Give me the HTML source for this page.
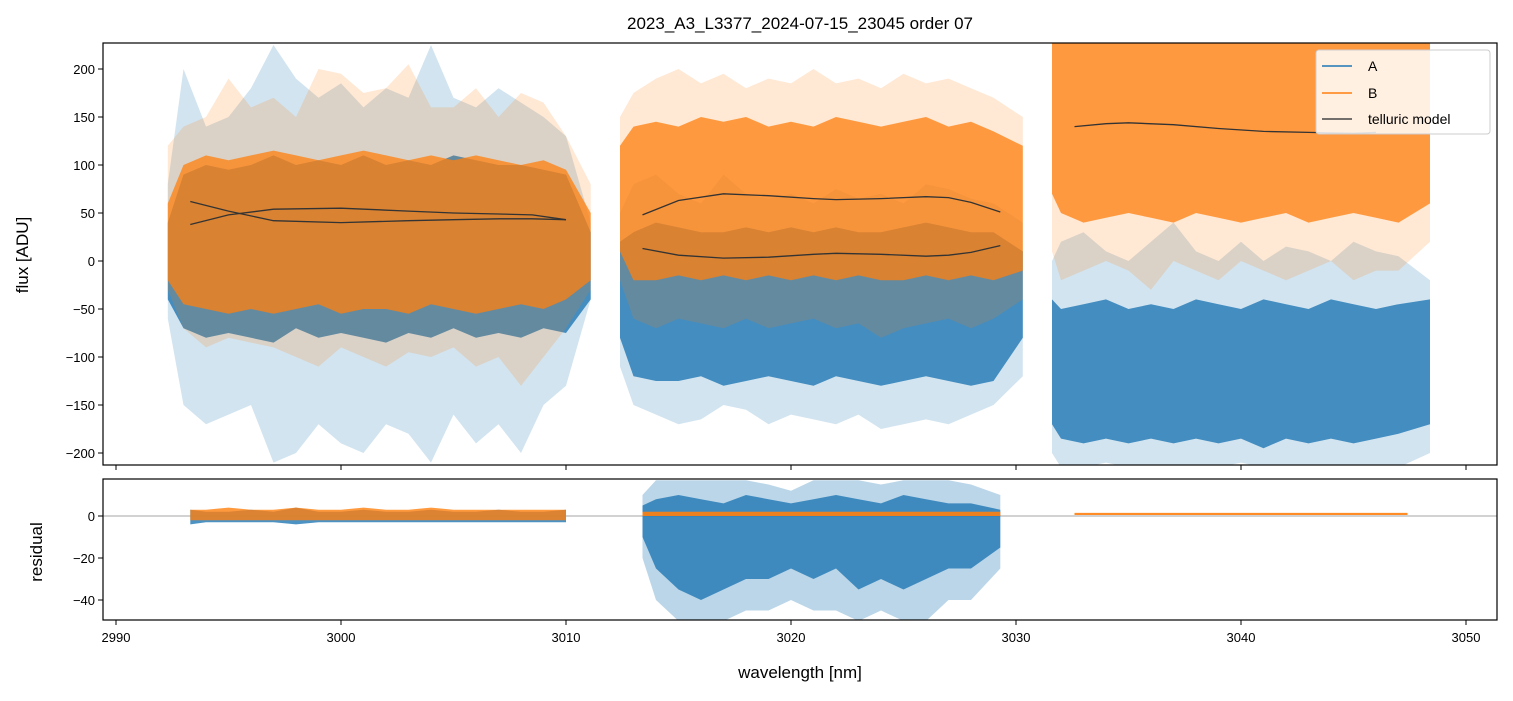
<!DOCTYPE html>
<html><head><meta charset="utf-8"><style>
body{margin:0;background:#fff;}
svg text{font-family:"Liberation Sans","DejaVu Sans",sans-serif;fill:#000;}
</style></head><body>
<svg id="c" width="1513" height="696" xmlns="http://www.w3.org/2000/svg">
<text x="800" y="29" font-size="17" text-anchor="middle">2023_A3_L3377_2024-07-15_23045  order 07</text>
<g id="main"></g>
<g id="res"></g>
</svg>
<script>
// ---- data (envelopes) ----
const seg1 = [2992.3,2993,2994,2995,2996,2997,2998,2999,3000,3001,3002,3003,3004,3005,3006,3007,3008,3009,3010,3011.1];
const seg2 = [3012.4,3013,3014,3015,3016,3017,3018,3019,3020,3021,3022,3023,3024,3025,3026,3027,3028,3029,3030.3];
const seg3 = [3031.6,3032,3033,3034,3035,3036,3037,3038,3039,3040,3041,3042,3043,3044,3045,3046,3047,3048.4];
// A flux
const A1coreLo=[-40,-70,-80,-75,-80,-85,-70,-80,-75,-80,-85,-75,-80,-70,-80,-75,-80,-70,-75,-40];
const A1coreHi=[40,90,100,95,100,110,100,105,100,110,100,105,100,110,105,100,100,95,90,30];
const A1spkLo=[-60,-150,-170,-160,-150,-210,-200,-170,-190,-200,-170,-180,-210,-160,-190,-170,-200,-150,-130,-40];
const A1spkHi=[80,200,140,150,180,225,190,170,185,160,180,170,225,170,160,180,165,150,130,40];
const A2coreLo=[-80,-120,-125,-125,-120,-130,-125,-120,-125,-130,-120,-125,-130,-125,-120,-125,-130,-125,-80];
const A2coreHi=[20,30,40,35,30,30,35,30,35,30,35,30,30,35,40,35,30,30,10];
const A2spkLo=[-110,-150,-160,-170,-165,-150,-155,-170,-160,-165,-170,-160,-175,-170,-165,-170,-160,-150,-120];
const A2spkHi=[50,80,90,70,60,90,70,65,70,60,75,65,70,60,80,75,65,60,40];
const A3coreLo=[-170,-185,-190,-185,-190,-185,-190,-185,-190,-185,-195,-185,-190,-185,-190,-185,-180,-170];
const A3coreHi=[-40,-50,-45,-40,-50,-45,-50,-40,-45,-50,-40,-45,-50,-40,-45,-50,-45,-40];
const A3spkLo=[-200,-215,-215,-210,-215,-215,-215,-215,-215,-210,-215,-215,-215,-215,-215,-215,-215,-200];
const A3spkHi=[0,20,30,10,0,20,40,10,0,20,0,15,10,0,20,10,5,-20];
// B flux
const B1coreLo=[-20,-45,-50,-55,-50,-55,-50,-45,-55,-50,-50,-55,-45,-50,-55,-50,-45,-50,-40,-20];
const B1coreHi=[60,100,110,105,110,115,110,105,110,115,110,105,110,105,110,105,100,105,95,50];
const B1spkLo=[-30,-70,-90,-80,-85,-90,-100,-110,-90,-100,-110,-95,-100,-90,-110,-100,-130,-100,-70,-30];
const B1spkHi=[120,140,150,190,160,170,150,200,195,175,180,205,160,160,180,150,175,165,130,80];
const B2coreLo=[10,-20,-20,-15,-20,-15,-20,-15,-20,-15,-20,-15,-20,-20,-15,-20,-15,-20,-10];
const B2coreHi=[120,140,145,140,150,145,150,140,145,140,150,145,140,145,150,140,145,135,120];
const B2spkLo=[-20,-60,-70,-60,-65,-70,-60,-70,-65,-60,-70,-65,-80,-70,-65,-60,-70,-60,-40];
const B2spkHi=[150,175,190,200,185,195,180,190,185,200,185,190,180,195,185,190,180,170,150];
const B3coreLo=[70,50,40,45,50,45,40,50,45,40,45,50,40,45,50,45,40,60];
const B3coreHi=[227,227,227,227,227,227,227,227,227,227,227,227,227,227,227,227,227,227];
const B3spkLo=[10,-20,-10,0,-10,-30,0,-10,-20,0,-10,-20,-10,0,-20,-10,-10,20];
const B3spkHi=[227,227,227,227,227,227,227,227,227,227,227,227,227,227,227,227,227,227];
// telluric models
const t1wl=[2993.3,2995,2997,3000,3003,3005,3007,3008.5,3010];
const t1a=[62,52,42,40,42,43,44,44,43];
const t1b=[38,48,54,55,52,50,49,48,43];
const t2wl=[3013.4,3015,3017,3019,3021,3022,3024,3026,3027,3028,3029.3];
const t2a=[48,63,70,68,65,64,65,67,66,61,51];
const t2b=[13,6,3,4,7,8,7,5,6,9,16];
const t3wl=[3032.6,3034,3035,3037,3039,3041,3043,3045,3046];
const t3a=[140,143,144,142,138,135,134,133,134];
// residuals
const rA1lo=[-4,-3,-3,-3,-3,-4,-3,-3,-3,-3,-3,-3,-3,-3,-3,-3,-3,-3];
const rA1hi=[3,2,2,3,2,4,2,2,3,2,2,3,2,2,3,2,2,3];
const rwl1=[2993.3,2994,2995,2996,2997,2998,2999,3000,3001,3002,3003,3004,3005,3006,3007,3008,3009,3010];
const rB1lo=[-2,-2,-2,-2,-2,-2,-2,-2,-2,-2,-2,-2,-2,-2,-2,-2,-2,-2];
const rB1hi=[3,3,4,3,3,4,3,3,4,3,3,4,3,3,3,3,3,3];
const rwl2=[3013.4,3014,3015,3016,3017,3018,3019,3020,3021,3022,3023,3024,3025,3026,3027,3028,3029.3];
const rA2coreLo=[-10,-25,-35,-40,-35,-30,-30,-25,-30,-25,-35,-30,-35,-30,-25,-25,-15];
const rA2coreHi=[5,8,10,8,6,10,8,6,8,10,8,6,10,8,6,6,3];
const rA2spkLo=[-20,-40,-50,-50,-50,-45,-45,-40,-45,-45,-50,-45,-50,-50,-40,-40,-25];
const rA2spkHi=[10,17,17,17,17,17,15,12,17,17,17,15,17,17,17,15,10];
const rwl3=[3032.6,3047.4];
// ---- axes ----
const X=w=>116+(w-2990)*22.5;
const Ym=v=>261-v*0.96;
const Yr=v=>516-v*2.1;
const NS="http://www.w3.org/2000/svg";
const svg=document.getElementById('c');
function mk(tag,attrs,parent){const e=document.createElementNS(NS,tag);for(const k in attrs)e.setAttribute(k,attrs[k]);(parent||svg).appendChild(e);return e;}
const defs=mk('defs',{});
const cp1=mk('clipPath',{id:'cm'},defs);mk('rect',{x:103,y:43,width:1394,height:422},cp1);
const cp2=mk('clipPath',{id:'cr'},defs);mk('rect',{x:103,y:479,width:1394,height:141},cp2);
const gm=document.getElementById('main');gm.setAttribute('clip-path','url(#cm)');
const gr=document.getElementById('res');gr.setAttribute('clip-path','url(#cr)');
function band(g,wl,lo,hi,Y,color,op,name){
  let d='M'+wl.map((w,i)=>X(w).toFixed(1)+','+Y(hi[i]).toFixed(1)).join('L');
  for(let i=wl.length-1;i>=0;i--)d+='L'+X(wl[i]).toFixed(1)+','+Y(lo[i]).toFixed(1);
  const p=mk('path',{d:d+'Z',fill:color,'fill-opacity':op},g);
  
  
}
function line(g,wl,v,Y,color,w,name){
  const p=mk('polyline',{points:wl.map((x,i)=>X(x).toFixed(1)+','+Y(v[i]).toFixed(1)).join(' '),fill:'none',stroke:color,'stroke-width':w},g);
  
  
}
const BL='#1f77b4',OR='#ff7f0e';
// A
band(gm,seg1,A1spkLo,A1spkHi,Ym,BL,0.2,'a-flux-spikes-seg1');
band(gm,seg1,A1coreLo,A1coreHi,Ym,BL,0.8,'a-flux-seg1');
band(gm,seg2,A2spkLo,A2spkHi,Ym,BL,0.2,'a-flux-spikes-seg2');
band(gm,seg2,A2coreLo,A2coreHi,Ym,BL,0.8,'a-flux-seg2');
band(gm,seg3,A3spkLo,A3spkHi,Ym,BL,0.2,'a-flux-spikes-seg3');
band(gm,seg3,A3coreLo,A3coreHi,Ym,BL,0.8,'a-flux-seg3');
// B
band(gm,seg1,B1spkLo,B1spkHi,Ym,OR,0.18,'b-flux-spikes-seg1');
band(gm,seg1,B1coreLo,B1coreHi,Ym,OR,0.75,'b-flux-seg1');
band(gm,seg2,B2spkLo,B2spkHi,Ym,OR,0.18,'b-flux-spikes-seg2');
band(gm,seg2,B2coreLo,B2coreHi,Ym,OR,0.75,'b-flux-seg2');
band(gm,seg3,B3spkLo,B3spkHi,Ym,OR,0.18,'b-flux-spikes-seg3');
band(gm,seg3,B3coreLo,B3coreHi,Ym,OR,0.75,'b-flux-seg3');
// telluric
line(gm,t1wl,t1a,Ym,'#333',1.3,'telluric-a-seg1');
line(gm,t1wl,t1b,Ym,'#333',1.3,'telluric-b-seg1');
line(gm,t2wl,t2a,Ym,'#333',1.3,'telluric-b-seg2');
line(gm,t2wl,t2b,Ym,'#333',1.3,'telluric-a-seg2');
line(gm,t3wl,t3a,Ym,'#333',1.3,'telluric-b-seg3');
// residuals
mk('line',{x1:103,x2:1497,y1:Yr(0),y2:Yr(0),stroke:'#888','stroke-width':0.8},gr);
band(gr,rwl1,rA1lo,rA1hi,Yr,BL,0.8,'a-residual-seg1');
band(gr,rwl1,rB1lo,rB1hi,Yr,OR,0.8,'b-residual-seg1');
band(gr,rwl2,rA2spkLo,rA2spkHi,Yr,BL,0.3,'a-residual-spikes-seg2');
band(gr,rwl2,rA2coreLo,rA2coreHi,Yr,BL,0.8,'a-residual-seg2');
band(gr,[3013.4,3029.3],[0,0],[2,2],Yr,OR,0.9,'b-residual-seg2');
band(gr,rwl3,[0.5,0.5],[1.5,1.5],Yr,OR,0.9,'b-residual-seg3');
// frames
mk('rect',{x:103,y:43,width:1394,height:422,fill:'none',stroke:'#000','stroke-width':1.2});
mk('rect',{x:103,y:479,width:1394,height:141,fill:'none',stroke:'#000','stroke-width':1.2});
// ticks
const xt=[2990,3000,3010,3020,3030,3040,3050];
xt.forEach(t=>{
  mk('line',{x1:X(t),x2:X(t),y1:465,y2:470,stroke:'#000'});
  mk('line',{x1:X(t),x2:X(t),y1:620,y2:625,stroke:'#000'});
  const tx=mk('text',{x:X(t),y:642,'font-size':13,'text-anchor':'middle'});tx.textContent=t;
  
  
});
const ymt=[-200,-150,-100,-50,0,50,100,150,200];
ymt.forEach(t=>{
  mk('line',{x1:98,x2:103,y1:Ym(t),y2:Ym(t),stroke:'#000'});
  const tx=mk('text',{x:95,y:Ym(t)+5,'font-size':13,'text-anchor':'end'});tx.textContent=t<0?'\u2212'+(-t):t;
  
  
});
const yrt=[-40,-20,0];
yrt.forEach(t=>{
  mk('line',{x1:98,x2:103,y1:Yr(t),y2:Yr(t),stroke:'#000'});
  const tx=mk('text',{x:95,y:Yr(t)+5,'font-size':13,'text-anchor':'end'});tx.textContent=t<0?'\u2212'+(-t):t;
  
  
});
</script>
<svg width="1513" height="696" style="position:absolute;left:0;top:0" xmlns="http://www.w3.org/2000/svg">
<text x="800" y="678" font-size="17" text-anchor="middle">wavelength [nm]</text>
<text transform="translate(28,255) rotate(-90)" font-size="17" text-anchor="middle">flux [ADU]</text>
<text transform="translate(42,552) rotate(-90)" font-size="17" text-anchor="middle">residual</text>
<g>
<rect x="1316" y="50" width="174" height="84" rx="3" fill="#fff" fill-opacity="0.85" stroke="#ccc"/>
<line x1="1322" x2="1352" y1="66" y2="66" stroke="#1f77b4" stroke-width="1.5"/><text x="1368" y="71" font-size="14">A</text>
<line x1="1322" x2="1352" y1="93" y2="93" stroke="#ff7f0e" stroke-width="1.5"/><text x="1368" y="98" font-size="14">B</text>
<line x1="1322" x2="1352" y1="119" y2="119" stroke="#444" stroke-width="1.5"/><text x="1368" y="124" font-size="14">telluric model</text>
</g>
</svg>
</body></html>
